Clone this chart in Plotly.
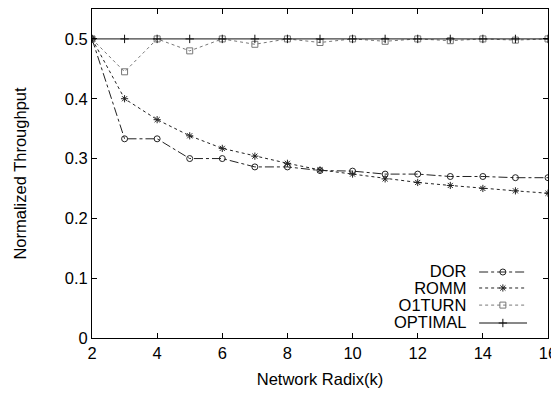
import plotly.graph_objects as go

radix = list(range(2, 17))
dor = [0.5, 0.333, 0.333, 0.3, 0.3, 0.286, 0.286, 0.28, 0.279, 0.274, 0.274, 0.27, 0.27, 0.268, 0.268]
romm = [0.5, 0.4, 0.365, 0.338, 0.317, 0.304, 0.292, 0.281, 0.274, 0.266, 0.26, 0.255, 0.25, 0.246, 0.242]
o1turn = [0.5, 0.445, 0.5, 0.48, 0.5, 0.491, 0.5, 0.494, 0.5, 0.496, 0.5, 0.497, 0.5, 0.498, 0.5]
optimal = [0.5] * 15

names = ["DOR", "ROMM", "O1TURN", "OPTIMAL"]
series = [dor, romm, o1turn, optimal]
styles = [
    dict(color="#222222", dash="dashdot", symbol="circle-open", msize=6),
    dict(color="#222222", dash="dot", symbol="asterisk-open", msize=6),
    dict(color="#777777", dash="dot", symbol="square-open", msize=6),
    dict(color="#111111", dash="solid", symbol="cross-thin-open", msize=6),
]

FS = 16.5

fig = go.Figure()
for name, vals, st in zip(names, series, styles):
    fig.add_trace(go.Scatter(
        x=radix, y=vals, name=name, mode="lines+markers",
        line=dict(color=st["color"], dash=st["dash"], width=1),
        marker=dict(symbol=st["symbol"], size=st["msize"],
                    line=dict(color=st["color"], width=1), color=st["color"]),
        showlegend=False,
    ))

# custom gnuplot-style key (text on left, sample on right)
key_y = [0.2006, 0.152, 0.100, 0.0456]
for name, st, ky in zip(names, styles, key_y):
    fig.add_trace(go.Scatter(
        x=[0.849, 0.954], y=[ky, ky], mode="lines", xaxis="x2", yaxis="y2",
        line=dict(color=st["color"], dash=st["dash"], width=1),
        showlegend=False, hoverinfo="skip",
    ))
    fig.add_trace(go.Scatter(
        x=[0.901], y=[ky], mode="markers", xaxis="x2", yaxis="y2",
        marker=dict(symbol=st["symbol"], size=st["msize"],
                    line=dict(color=st["color"], width=1), color=st["color"]),
        showlegend=False, hoverinfo="skip",
    ))

key_text = "<br>".join(
    "<span style='font-size:%spx'>%s</span>" % (FS, n) for n in names)
fig.add_annotation(x=0.8246, y=(key_y[1] + key_y[2]) / 2, xref="x2", yref="y2",
                   text=key_text, showarrow=False, xanchor="right",
                   yanchor="middle", align="right", borderpad=0,
                   font=dict(size=13, color="black"))

axis_common = dict(
    showline=True, linecolor="black", linewidth=1, mirror="allticks",
    ticks="inside", ticklen=5, tickcolor="black", showgrid=False, zeroline=False,
    tickfont=dict(size=FS, color="black"),
)

fig.update_layout(
    width=551, height=386,
    margin=dict(l=84, r=11, t=1, b=56),
    paper_bgcolor="white", plot_bgcolor="white",
    font=dict(family="Liberation Sans, Arial, sans-serif", size=FS, color="black"),
    xaxis=dict(range=[2, 16], tickvals=list(range(2, 17, 2)),
               title=dict(text="Network Radix(k)", font=dict(size=FS), standoff=12),
               **axis_common),
    yaxis=dict(range=[0, 0.55], tickvals=[0, 0.1, 0.2, 0.3, 0.4, 0.5],
               ticktext=["0", "0.1", "0.2", "0.3", "0.4", "0.5"],
               title=dict(text="Normalized Throughput", font=dict(size=FS), standoff=33),
               **axis_common),
    xaxis2=dict(range=[0, 1], overlaying="x", visible=False, fixedrange=True),
    yaxis2=dict(range=[0, 1], overlaying="y", visible=False, fixedrange=True),
)

fig.write_html("out.html")
